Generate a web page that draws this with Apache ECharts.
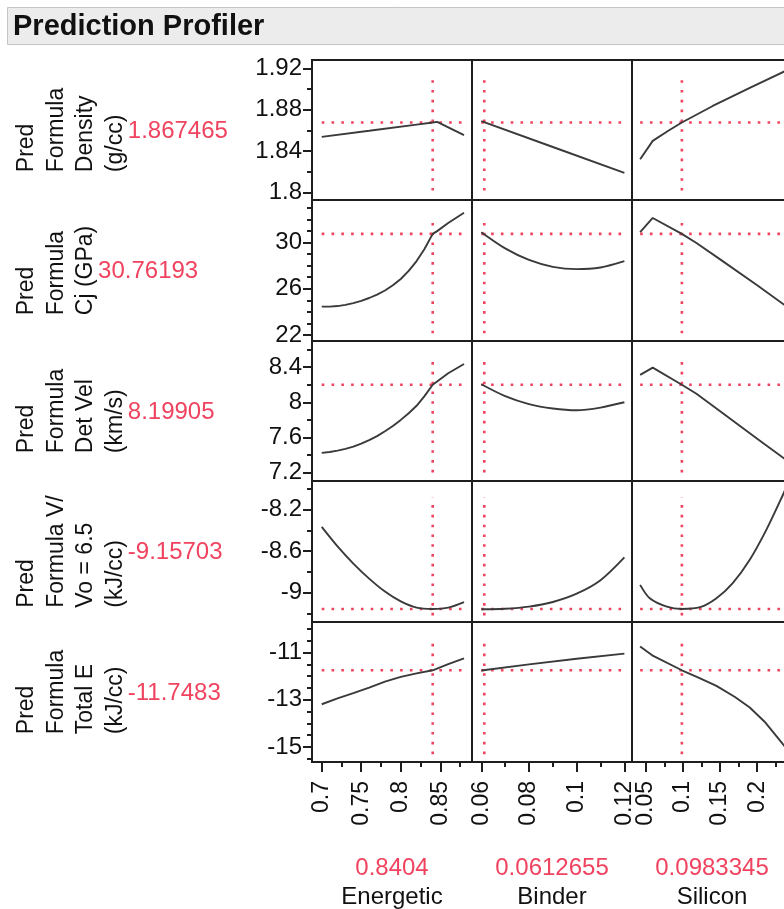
<!DOCTYPE html>
<html>
<head>
<meta charset="utf-8">
<title>Prediction Profiler</title>
<script src="https://cdn.jsdelivr.net/npm/echarts@6/dist/echarts.min.js"></script>
<style>
html, body { margin: 0; padding: 0; background: #fff; }
#chart { width: 784px; height: 909px; }
</style>
</head>
<body>
<div id="chart"></div>
<script>
// factors (columns)
var factors = ['Energetic', 'Binder', 'Silicon'];
var factorCurrent = [0.8404, 0.0612655, 0.0983345];
var factorCurrentText = ['0.8404', '0.0612655', '0.0983345'];
var xRange = [[0.6877, 0.8901], [0.0561, 0.1232], [0.031, 0.247]];
var xTicks = [[0.7, 0.75, 0.8, 0.85], [0.06, 0.08, 0.1, 0.12], [0.05, 0.1, 0.15, 0.2]];
var xMinor = [[0.725, 0.775, 0.825, 0.875], [0.07, 0.09, 0.11], [0.075, 0.125, 0.175, 0.225]];
var crossX = [[0.70, 0.88], [0.06, 0.12], [0.042, 0.24]];

// responses (rows)
var responseLabels = [
  ['Pred', 'Formula', 'Density', '(g/cc)'],
  ['Pred', 'Formula', 'Cj (GPa)'],
  ['Pred', 'Formula', 'Det Vel', '(km/s)'],
  ['Pred', 'Formula V/', 'Vo = 6.5', '(kJ/cc)'],
  ['Pred', 'Formula', 'Total E', '(kJ/cc)']
];
var responseCurrent = [1.867465, 30.76193, 8.19905, -9.15703, -11.7483];
var responseCurrentText = ['1.867465', '30.76193', '8.19905', '-9.15703', '-11.7483'];
var yRange = [[1.7925, 1.928], [21.47, 33.7], [7.105, 8.697], [-9.283, -7.924], [-15.64, -9.70]];
var yTicks = [[1.8, 1.84, 1.88, 1.92], [22, 26, 30], [7.2, 7.6, 8, 8.4], [-9, -8.6, -8.2], [-15, -13, -11]];
var yMinor = [
  [1.82, 1.86, 1.9],
  [23, 24, 25, 27, 28, 29, 31, 32, 33],
  [7.4, 7.8, 8.2, 8.6],
  [-9.2, -8.8, -8.4, -8.0],
  [-15.5, -14.5, -14, -13.5, -12.5, -12, -11.5, -10.5, -10]
];
var crossY = [[1.8016, 1.912], [22.14, 32.23], [7.202, 8.505], [-9.22, -8.083], [-15.31, -10.348]];

// profile traces [factor value, predicted response]
var density_energetic = [[0.70, 1.8536], [0.76, 1.8595], [0.82, 1.8655], [0.8404, 1.8675], [0.846, 1.8681], [0.88, 1.8552]];
var density_binder = [[0.06, 1.8688], [0.09, 1.8438], [0.12, 1.8188]];
var density_silicon = [[0.042, 1.832], [0.059, 1.8497], [0.08, 1.8595], [0.0983, 1.8675], [0.14, 1.8835], [0.19, 1.901], [0.24, 1.918]];

var ci_energetic = [[0.70, 24.45], [0.71, 24.45], [0.72, 24.5], [0.73, 24.6], [0.74, 24.75], [0.75, 24.95], [0.76, 25.2], [0.77, 25.5], [0.78, 25.85], [0.79, 26.3], [0.80, 26.85], [0.81, 27.55], [0.82, 28.4], [0.83, 29.45], [0.8404, 30.76], [0.846, 31.0], [0.86, 31.7], [0.88, 32.6]];
var ci_binder = [[0.06, 30.9], [0.07, 29.5], [0.08, 28.5], [0.09, 27.9], [0.10, 27.7], [0.11, 27.85], [0.12, 28.4]];
var ci_silicon = [[0.042, 30.91], [0.059, 32.14], [0.0983, 30.76], [0.118, 29.97], [0.15, 28.55], [0.20, 26.3], [0.24, 24.45]];

var detvel_energetic = [[0.70, 7.425], [0.71, 7.435], [0.72, 7.45], [0.73, 7.47], [0.74, 7.495], [0.75, 7.53], [0.76, 7.57], [0.77, 7.615], [0.78, 7.67], [0.79, 7.73], [0.80, 7.80], [0.81, 7.875], [0.82, 7.96], [0.83, 8.07], [0.8404, 8.199], [0.86, 8.33], [0.88, 8.435]];
var detvel_binder = [[0.06, 8.205], [0.07, 8.07], [0.08, 7.98], [0.09, 7.93], [0.10, 7.91], [0.11, 7.94], [0.12, 8.0]];
var detvel_silicon = [[0.042, 8.312], [0.059, 8.395], [0.0983, 8.199], [0.118, 8.097], [0.15, 7.898], [0.20, 7.586], [0.24, 7.338]];

var vvo_energetic = [[0.70, -8.367], [0.72, -8.555], [0.74, -8.72], [0.76, -8.865], [0.78, -8.99], [0.80, -9.085], [0.82, -9.145], [0.8404, -9.157], [0.86, -9.145], [0.88, -9.092]];
var vvo_binder = [[0.06, -9.16], [0.07, -9.155], [0.08, -9.135], [0.09, -9.09], [0.10, -9.01], [0.11, -8.88], [0.12, -8.66]];
var vvo_silicon = [[0.042, -8.925], [0.055, -9.054], [0.078, -9.135], [0.0983, -9.157], [0.123, -9.14], [0.145, -9.054], [0.167, -8.908], [0.19, -8.683], [0.2125, -8.393], [0.235, -8.054], [0.24, -7.97]];

var totale_energetic = [[0.70, -13.19], [0.72, -12.94], [0.74, -12.72], [0.76, -12.48], [0.78, -12.23], [0.80, -12.03], [0.82, -11.88], [0.8404, -11.748], [0.86, -11.49], [0.88, -11.24]];
var totale_binder = [[0.06, -11.755], [0.08, -11.50], [0.10, -11.26], [0.12, -11.04]];
var totale_silicon = [[0.042, -10.74], [0.0596, -11.14], [0.0983, -11.748], [0.12, -12.05], [0.145, -12.41], [0.17, -12.88], [0.19, -13.33], [0.21, -13.93], [0.235, -14.89], [0.24, -15.08]];

var curves = [
  [density_energetic, density_binder, density_silicon],
  [ci_energetic, ci_binder, ci_silicon],
  [detvel_energetic, detvel_binder, detvel_silicon],
  [vvo_energetic, vvo_binder, vvo_silicon],
  [totale_energetic, totale_binder, totale_silicon]
];
// kinked traces stay straight-segmented, smooth ones get a little spline
var smoothness = [[0, 0, 0], [0, 0.3, 0], [0, 0.3, 0], [0.3, 0.3, 0.3], [0, 0, 0]];

var FONT = '"Liberation Sans", Arial, sans-serif';
var RED = '#f0435f';
var INK = '#111111';
var LINE = '#1e1e1e';
var colLeft = [312, 472, 632];
var colW = 160;
var rowTop = [60, 200, 341, 481, 622, 762];

var grids = [], xAxes = [], yAxes = [], series = [];
for (var r = 0; r < 5; r++) {
  for (var c = 0; c < 3; c++) {
    var i = r * 3 + c;
    var bottomRow = r === 4, firstCol = c === 0;
    grids.push({
      left: colLeft[c], top: rowTop[r], width: colW, height: rowTop[r + 1] - rowTop[r],
      show: true, borderColor: LINE, borderWidth: 2, backgroundColor: '#fff',
      containLabel: false, outerBoundsMode: 'none'
    });
    xAxes.push({
      type: 'value', gridIndex: i, position: 'bottom', min: xRange[c][0], max: xRange[c][1],
      axisLine: { show: false }, splitLine: { show: false },
      axisTick: { show: bottomRow, customValues: xTicks[c], length: 10, lineStyle: { color: LINE, width: 2 } },
      axisLabel: { show: bottomRow, customValues: xTicks[c], rotate: 90, margin: 19, fontSize: 23, color: INK, fontFamily: FONT }
    });
    yAxes.push({
      type: 'value', gridIndex: i, position: 'left', min: yRange[r][0], max: yRange[r][1],
      axisLine: { show: false }, splitLine: { show: false },
      axisTick: { show: firstCol, customValues: yTicks[r], length: 9, lineStyle: { color: LINE, width: 2 } },
      axisLabel: { show: firstCol, customValues: yTicks[r], margin: 10, fontSize: 24, color: INK, fontFamily: FONT }
    });

    // crosshair at current settings
    series.push({
      type: 'line', xAxisIndex: i, yAxisIndex: i, symbol: 'none', silent: true, z: 1,
      data: [[factorCurrent[c], crossY[r][0]], [factorCurrent[c], crossY[r][1]]],
      lineStyle: { color: RED, width: 2.6, type: [2.6, 7.2] }
    });
    series.push({
      type: 'line', xAxisIndex: i, yAxisIndex: i, symbol: 'none', silent: true, z: 1,
      data: [[crossX[c][0], responseCurrent[r]], [crossX[c][1], responseCurrent[r]]],
      lineStyle: { color: RED, width: 2.6, type: [2.6, 7.2] }
    });
    // profile trace
    series.push({
      type: 'line', xAxisIndex: i, yAxisIndex: i, symbol: 'none', silent: true, z: 3,
      data: curves[r][c], smooth: smoothness[r][c],
      lineStyle: { color: '#3a3a3a', width: 1.9 }
    });
  }
}

// minor ticks, drawn by extra axes sharing the panel scales
for (var r2 = 0; r2 < 5; r2++) {
  yAxes.push({
    type: 'value', gridIndex: r2 * 3, position: 'left', min: yRange[r2][0], max: yRange[r2][1],
    axisLine: { show: false }, splitLine: { show: false }, axisLabel: { show: false },
    axisTick: { show: true, customValues: yMinor[r2], length: 5, lineStyle: { color: LINE, width: 2 } }
  });
}
for (var c2 = 0; c2 < 3; c2++) {
  xAxes.push({
    type: 'value', gridIndex: 12 + c2, position: 'bottom', min: xRange[c2][0], max: xRange[c2][1],
    axisLine: { show: false }, splitLine: { show: false }, axisLabel: { show: false },
    axisTick: { show: true, customValues: xMinor[c2], length: 5, lineStyle: { color: LINE, width: 2 } }
  });
}

// texts around the matrix
var ctx = document.createElement('canvas').getContext('2d');
ctx.font = '23px ' + FONT;
var graphics = [
  { type: 'rect', shape: { x: 7.5, y: 7.5, width: 820, height: 37 }, style: { fill: '#ececec', stroke: '#c4c4c4', lineWidth: 1 } },
  { type: 'text', x: 13, y: 27, style: { text: 'Prediction Profiler', font: 'bold 29px ' + FONT, fill: INK, verticalAlign: 'middle' } }
];
responseLabels.forEach(function (lines, k) {
  var mid = (rowTop[k] + rowTop[k + 1]) / 2;
  var w = Math.max.apply(null, lines.map(function (s) { return ctx.measureText(s).width; }));
  graphics.push({
    type: 'text', x: 12, y: mid + w / 2, rotation: Math.PI / 2,
    style: { text: lines.join('\n'), font: '23px ' + FONT, lineHeight: 29.5, fill: INK, align: 'left', verticalAlign: 'top' }
  });
  graphics.push({
    type: 'text', x: 9 + 29.7 * lines.length, y: mid + 1,
    style: { text: responseCurrentText[k], font: '24px ' + FONT, fill: RED, align: 'left', verticalAlign: 'middle' }
  });
});
factors.forEach(function (name, k) {
  var cx = colLeft[k] + colW / 2;
  graphics.push({ type: 'text', x: cx, y: 868, style: { text: factorCurrentText[k], font: '24px ' + FONT, fill: RED, align: 'center', verticalAlign: 'middle' } });
  graphics.push({ type: 'text', x: cx, y: 897, style: { text: name, font: '24px ' + FONT, fill: INK, align: 'center', verticalAlign: 'middle' } });
});

var chart = echarts.init(document.getElementById('chart'));
chart.setOption({
  animation: false,
  backgroundColor: '#fff',
  grid: grids,
  xAxis: xAxes,
  yAxis: yAxes,
  series: series,
  graphic: graphics
});
</script>
</body>
</html>
